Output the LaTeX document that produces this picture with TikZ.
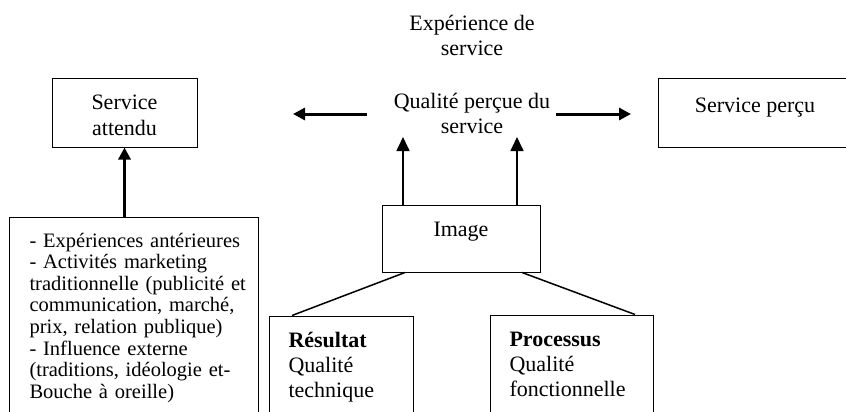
\documentclass[tikz,border=0pt]{standalone}
\usepackage{fontspec}
\setmainfont{Liberation Serif}
\usetikzlibrary{arrows.meta}
\begin{document}
\begin{tikzpicture}[x=1pt,y=-1pt,
  every node/.style={font=\fontsize{22}{25}\selectfont},
  boxnode/.style={draw, line width=1pt, inner ysep=0pt, inner xsep=0pt, anchor=base},
  leftbox/.style={draw, line width=1pt, inner ysep=0pt, inner xsep=19pt, align=left, anchor=base west},
  bigarrow/.style={line width=3pt, -{Triangle[length=12pt,width=12pt]}},
  smallarrow/.style={line width=1.6pt, -{Triangle[length=14pt,width=13pt]}},
  link/.style={line width=1.5pt}]
\useasboundingbox (0,0) rectangle (846,412);
\clip (0,0) rectangle (846,412);

% boxes
\node[boxnode, align=center, minimum width=145pt, text height=56pt, text depth=12pt] (att) at (124.5,135) {Service\\attendu};
\node[boxnode, minimum width=194pt, text height=33pt, text depth=35pt] (perc) at (755,112) {Service perçu};
\node[boxnode, minimum width=158pt, text height=31pt, text depth=36pt] (img) at (461,236) {Image};
\node[leftbox, text width=106pt, text height=31pt, text depth=100pt] (res) at (269,347) {\textbf{Résultat}\\Qualité\\technique};
\node[leftbox, text width=125pt, text height=31pt, text depth=100pt] (proc) at (490,346) {\textbf{Processus}\\Qualité\\fonctionnelle};
\node[leftbox, inner xsep=20pt, text width=209pt, text height=30pt, text depth=200pt,
      font=\fontsize{20.5}{21.6}\selectfont] (ext) at (9,247)
  {\mbox{- Expériences antérieures}\\
   \mbox{- Activités marketing}\\
   \mbox{traditionnelle (publicité et}\\
   \mbox{communication, marché,}\\
   \mbox{prix, relation publique)}\\
   \mbox{- Influence externe}\\
   \mbox{(traditions, idéologie et-}\\
   \mbox{Bouche à oreille)}};

% free texts
\node[align=center, anchor=base, inner sep=0pt] (exp) at (472,56) {Expérience de\\service};
\node[align=center, anchor=base, inner sep=0pt] (qual) at (472,133) {Qualité perçue du\\service};

% free arrow ends
\coordinate (lt) at (367,114);
\coordinate (lh) at (293,114);
\coordinate (rt) at (556,114);
\coordinate (rh) at (631,114);
\coordinate (va) at (403,137);
\coordinate (vb) at (517,137);

% connectors
\draw[bigarrow] (ext.north -| att.south) -- (att.south);
\draw[bigarrow] (lt) -- (lh);
\draw[bigarrow] (rt) -- (rh);
\draw[smallarrow] (img.north -| va) -- (va);
\draw[smallarrow] (img.north -| vb) -- (vb);
\draw[link] ([xshift=-56pt]img.south) -- ([xshift=23pt]res.north west);
\draw[link] ([xshift=61pt]img.south) -- ([xshift=-19pt]proc.north east);
\end{tikzpicture}
\end{document}
